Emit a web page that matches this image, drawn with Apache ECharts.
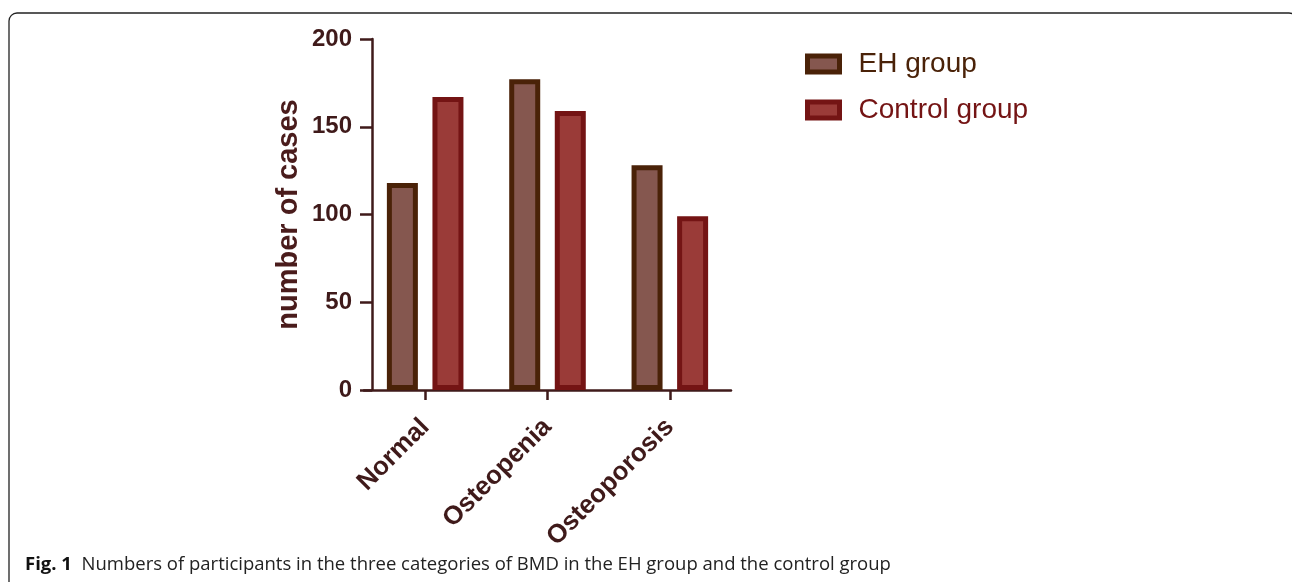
<!DOCTYPE html>
<html>
<head>
<meta charset="utf-8">
<script src="https://cdn.jsdelivr.net/npm/echarts@6/dist/echarts.min.js"></script>
<style>
html,body{margin:0;padding:0;background:#fff;}
#main{width:1292px;height:582px;}
</style>
</head>
<body>
<div id="main"></div>
<script>
const categories = ['Normal', 'Osteopenia', 'Osteoporosis'];
const ehGroup = [118, 177, 128];
const controlGroup = [167, 159, 99];
const seriesNames = ['EH group', 'Control group'];
const yTicks = [0, 50, 100, 150, 200];

const chart = echarts.init(document.getElementById('main'), null, {renderer: 'canvas'});
const axisColor = '#3f1a1a';
const font = 'Liberation Sans, Arial, sans-serif';
const option = {
  animation: false,
  backgroundColor: '#ffffff',
  grid: {left: 364, right: 561, top: 39, bottom: 192, containLabel: false},
  legend: {
    orient: 'vertical',
    left: 800, top: 45,
    icon: 'rect',
    itemWidth: 32, itemHeight: 16, itemGap: 18,
    textStyle: {fontFamily: font, fontSize: 28, padding: [0, 0, 0, 14]},
    data: [
      {name: seriesNames[0], textStyle: {color: '#4a2208'}, itemStyle: {color: '#85574f', borderColor: '#4a2208', borderWidth: 5}},
      {name: seriesNames[1], textStyle: {color: '#741414'}, itemStyle: {color: '#9a3b38', borderColor: '#741414', borderWidth: 5}}
    ]
  },
  xAxis: {
    type: 'category',
    data: categories,
    axisLine: {lineStyle: {color: axisColor, width: 2.5}},
    axisTick: {show: true, interval: 0, alignWithLabel: true, length: 10, lineStyle: {color: axisColor, width: 2.5}},
    axisLabel: {interval: 0, rotate: 45, margin: 33, color: axisColor, fontWeight: 'bold', fontSize: 26, fontFamily: font}
  },
  yAxis: {
    type: 'value',
    min: yTicks[0], max: yTicks[yTicks.length - 1], interval: 50,
    offset: -8,
    name: 'number of cases',
    nameLocation: 'middle',
    nameGap: 69,
    nameTextStyle: {color: '#4a1c1c', fontWeight: 'bold', fontSize: 29, fontFamily: font},
    splitLine: {show: false},
    axisLine: {show: true, lineStyle: {color: axisColor, width: 2.5}},
    axisTick: {show: true, length: 12, lineStyle: {color: axisColor, width: 2.5}},
    axisLabel: {margin: 20, color: axisColor, fontWeight: 'bold', fontSize: 24, fontFamily: font}
  },
  series: [
    {
      name: seriesNames[0], type: 'bar', data: ehGroup,
      barWidth: 31, barGap: '47%',
      itemStyle: {color: '#85574f', borderColor: '#4a2208', borderWidth: 5}
    },
    {
      name: seriesNames[1], type: 'bar', data: controlGroup,
      barWidth: 31,
      itemStyle: {color: '#9a3b38', borderColor: '#741414', borderWidth: 5}
    }
  ],
  graphic: [
    {type: 'rect', shape: {x: 9, y: 13, width: 1288, height: 700, r: 8}, style: {fill: 'none', stroke: '#222', lineWidth: 1.3}, silent: true, z: 100},
    {type: 'text', left: 25, top: 555, style: {
      text: '{b|Fig. 1}  Numbers of participants in the three categories of BMD in the EH group and the control group',
      rich: {b: {fontWeight: 'bold', fontSize: 18.5, fontFamily: 'Open Sans, sans-serif', fill: '#111'}},
      fontSize: 18.5, fontFamily: 'Open Sans, sans-serif', fill: '#222'
    }}
  ]
};
chart.setOption(option);
</script>
</body>
</html>
